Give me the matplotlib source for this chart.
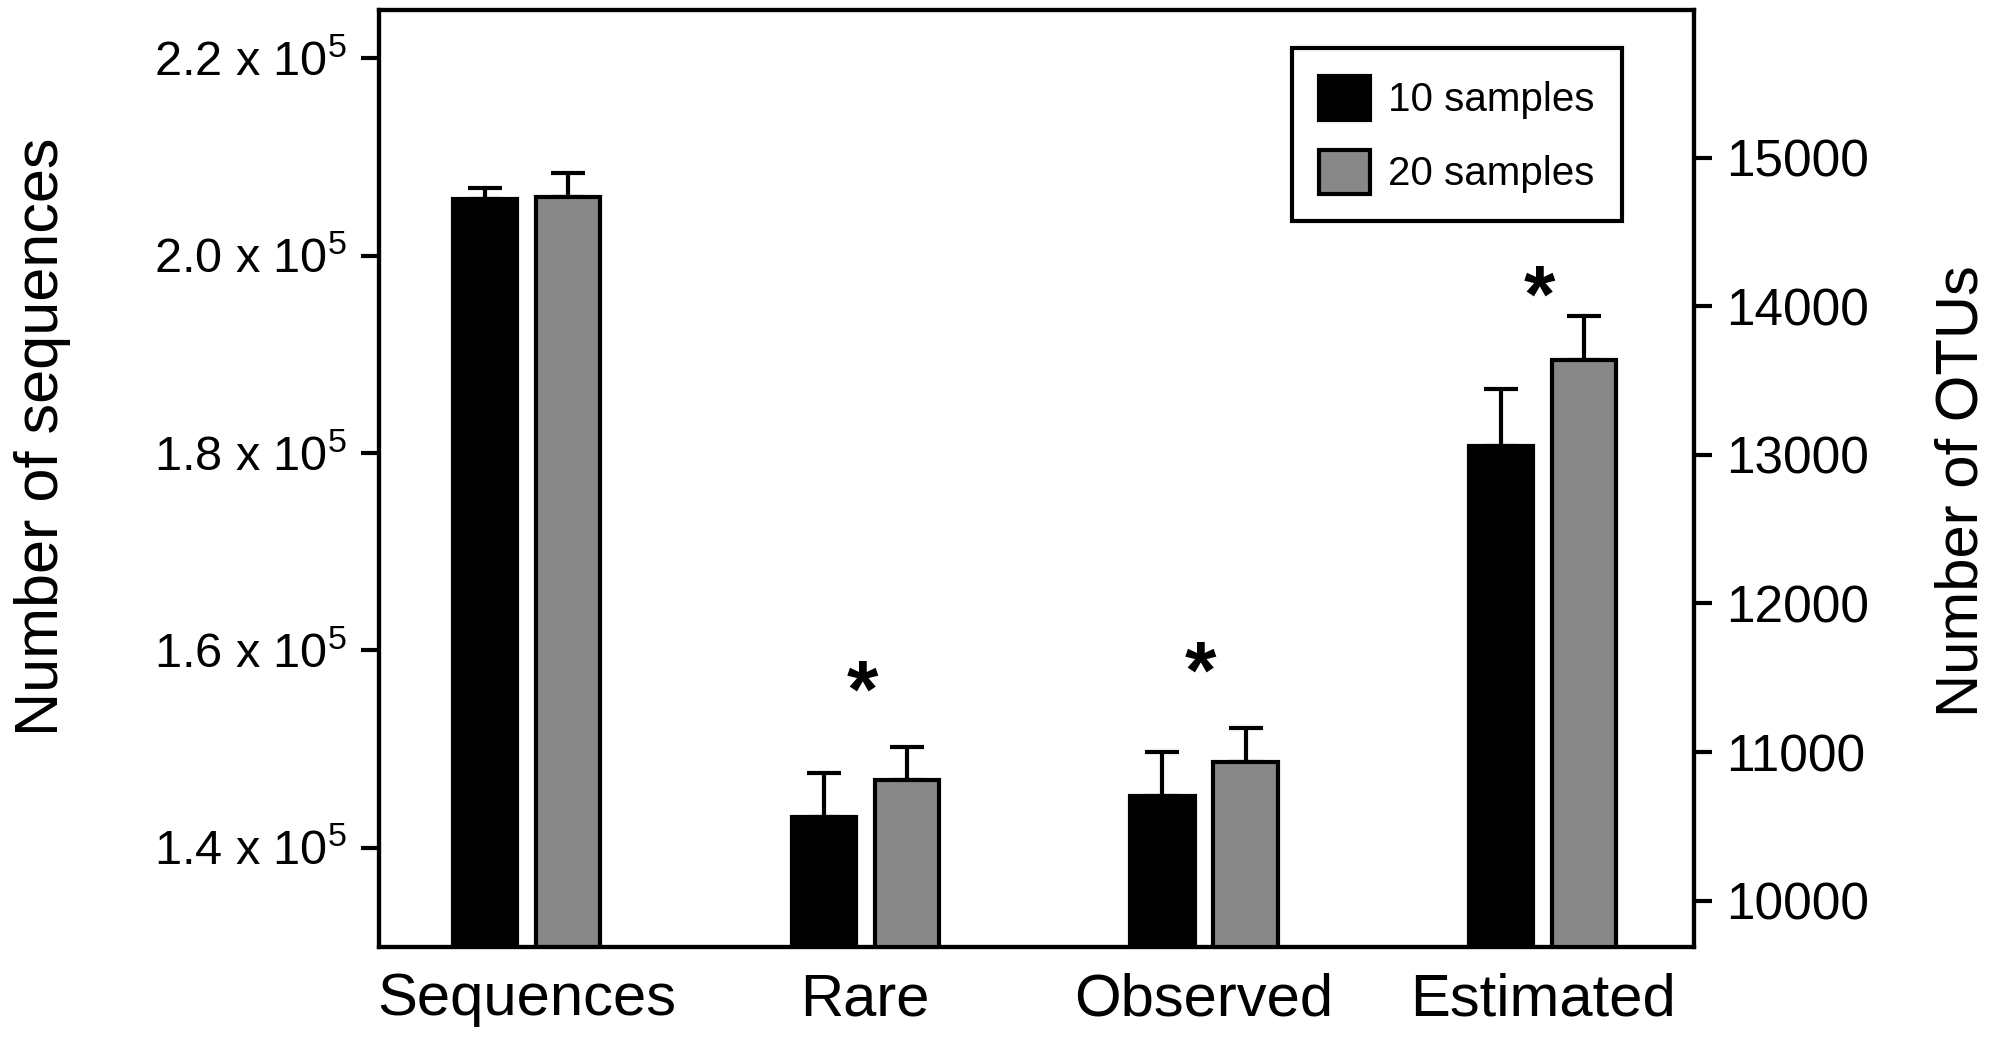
"""
Histogramme groupé - séquences et OTUs pour 10 et 20 échantillons.
Axe gauche : nombre de séquences ; axe droit : nombre d'OTUs.
"""

import matplotlib
matplotlib.use('Agg')
import matplotlib.pyplot as plt
from matplotlib import font_manager
from matplotlib.patches import Patch

# Données
categories = ['Sequences', 'Rare', 'Observed', 'Estimated']
series = ['10 samples', '20 samples']

# Séquences (axe gauche)
seq_10 = 205700
seq_20 = 205970
seq_err_10 = 1140
seq_err_20 = 2420

# OTUs (axe droit) : Rare, Observed, Estimated
otu_10 = [10566, 10704, 13062]
otu_20 = [10815, 10935, 13641]
otu_err_10 = [294, 298, 379]
otu_err_20 = [218, 227, 290]

# Étoiles de significativité (catégorie, hauteur sur l'axe droit)
etoiles_cat = ['Rare', 'Observed', 'Estimated']
etoiles_y = [11380, 11505, 14040]

ticks_gauche = [1.4e5, 1.6e5, 1.8e5, 2.0e5, 2.2e5]
ticks_droite = [10000, 11000, 12000, 13000, 14000, 15000]

# Configuration
noms = {f.name for f in font_manager.fontManager.ttflist}
POLICE = 'Liberation Sans'
POLICE_ETROITE = 'Liberation Sans Narrow' if 'Liberation Sans Narrow' in noms else POLICE

plt.rcParams['font.family'] = [POLICE, 'DejaVu Sans']
plt.rcParams['mathtext.fontset'] = 'custom'
plt.rcParams['mathtext.rm'] = POLICE
plt.rcParams['mathtext.it'] = POLICE
plt.rcParams['mathtext.bf'] = POLICE

NOIR = '#000000'
GRIS = '#888888'
LARGEUR = 0.19
DECALAGE = 0.123
LW = 3


def tracer_barres(ax, x, valeurs, erreurs, couleur):
    ax.bar(x, valeurs, width = LARGEUR, color = couleur, edgecolor = 'black',
           linewidth = LW, zorder = 2)
    ax.errorbar(x, valeurs, yerr = [[0] * len(erreurs), erreurs], fmt = 'none',
                ecolor = 'black', elinewidth = LW, capsize = 12, capthick = LW,
                zorder = 1)


def generer_figure():
    fig = plt.figure(figsize = (19.93, 10.40), dpi = 100)
    ax = fig.add_axes([0.190, 0.0894, 0.660, 0.901])
    ax2 = ax.twinx()

    x_cat = list(range(len(categories)))
    x_otu = x_cat[1:]

    # Séquences sur l'axe gauche
    tracer_barres(ax, [x_cat[0] - DECALAGE], [seq_10], [seq_err_10], NOIR)
    tracer_barres(ax, [x_cat[0] + DECALAGE], [seq_20], [seq_err_20], GRIS)

    # OTUs sur l'axe droit
    tracer_barres(ax2, [x - DECALAGE for x in x_otu], otu_10, otu_err_10, NOIR)
    tracer_barres(ax2, [x + DECALAGE for x in x_otu], otu_20, otu_err_20, GRIS)

    for cat, y in zip(etoiles_cat, etoiles_y):
        ax2.text(categories.index(cat) - 0.01, y, '*', ha = 'center', va = 'center',
                 fontsize = 58, fontweight = 'bold')

    ax.set_xlim(-0.437, 3.447)
    ax.set_ylim(1.2993e5, 2.249e5)
    ax2.set_ylim(9688, 15993)

    ax.set_xticks(x_cat)
    ax.set_xticklabels(categories, fontsize = 43)
    ax.tick_params(axis = 'x', length = 0, pad = 18)

    ax.set_yticks(ticks_gauche)
    ax.set_yticklabels([f"{t / 1e5:.1f} x 10$^{{5}}$" for t in ticks_gauche], fontsize = 35)
    ax.tick_params(axis = 'y', length = 13, width = LW, pad = 10)

    ax2.set_yticks(ticks_droite)
    ax2.set_yticklabels([str(t) for t in ticks_droite], fontsize = 37)
    ax2.tick_params(axis = 'y', length = 13, width = LW, pad = 10)

    for a in (ax, ax2):
        for spine in a.spines.values():
            spine.set_linewidth(3)

    ax.set_ylabel('Number of sequences', fontsize = 44, family = POLICE_ETROITE)
    ax.yaxis.set_label_coords(-0.234, 0.545)
    ax2.set_ylabel('Number of OTUs', fontsize = 43, family = POLICE_ETROITE,
                   rotation = 90)
    ax2.yaxis.set_label_coords(1.183, 0.487)

    # Légende
    poignees = [Patch(facecolor = NOIR, edgecolor = 'black', linewidth = LW),
                Patch(facecolor = GRIS, edgecolor = 'black', linewidth = LW)]
    leg = ax2.legend(poignees, series, loc = 'upper right',
                     bbox_to_anchor = (0.945, 0.959), borderaxespad = 0,
                     fontsize = 29, fancybox = False, framealpha = 1,
                     edgecolor = 'black', handlelength = 1.25, handleheight = 1.3,
                     handletextpad = 0.45, labelspacing = 0.75, borderpad = 0.68)
    leg.get_frame().set_linewidth(3)

    fig.savefig('out.png', dpi = 100)


if __name__ == "__main__":
    generer_figure()
